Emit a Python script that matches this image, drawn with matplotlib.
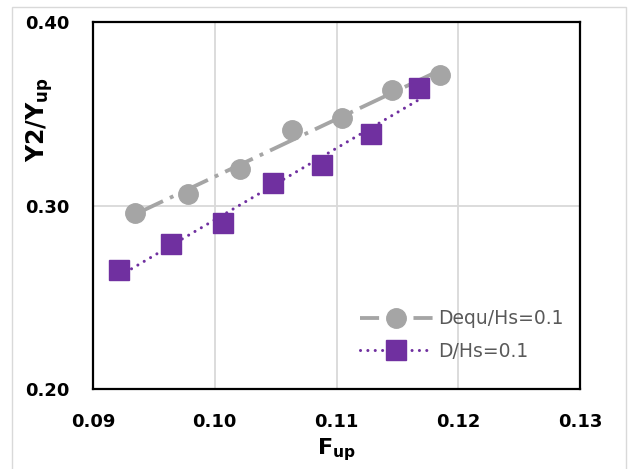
import numpy as np
import matplotlib
matplotlib.use('Agg')
from matplotlib import pyplot as plt
from matplotlib.lines import Line2D
from matplotlib.patches import Rectangle

# Dequ/Hs=0.1
x_dequ = [0.09348, 0.09784, 0.10210, 0.10632, 0.11047, 0.11453, 0.11850]
y_dequ = [0.2960, 0.3065, 0.3200, 0.3414, 0.3476, 0.3628, 0.3712]
# D/Hs=0.1
x_d = [0.09212, 0.09642, 0.10064, 0.10479, 0.10885, 0.11286, 0.11681]
y_d = [0.2647, 0.2791, 0.2904, 0.3125, 0.3223, 0.3391, 0.3641]

labels = ['Dequ/Hs=0.1', 'D/Hs=0.1']
x_ticks = [0.09, 0.10, 0.11, 0.12, 0.13]
y_ticks = [0.20, 0.30, 0.40]

gray = '#A5A5A5'
purple = '#7030A0'
dash_gray = (0, (8, 2, 1, 2))
dot_purple = (0, (0.01, 2.4))

W, H = 631, 469
fig = plt.figure(figsize=(W / 100, H / 100), dpi=100)
ax = fig.add_axes([93 / W, 1 - 389 / H, 487 / W, 367 / H])

# chart area border
fig.patches.append(Rectangle((12 / W, -0.1), 614 / W, 1.1 - 7 / H, transform=fig.transFigure,
                             fill=False, edgecolor='#D9D9D9', linewidth=1))


def trend(x, y):
    k, b = np.polyfit(x, y, 1)
    xs = np.array([min(x), max(x)])
    return xs, k * xs + b


tx, ty = trend(x_dequ, y_dequ)
ax.plot(tx, ty, color=gray, lw=2.75, linestyle=dash_gray, zorder=3)
tx, ty = trend(x_d, y_d)
ax.plot(tx, ty, color=purple, lw=2.2, linestyle=dot_purple, dash_capstyle='round', zorder=3)

ax.plot(x_dequ, y_dequ, 'o', color=gray, markersize=14, zorder=4)
ax.plot(x_d, y_d, 's', color=purple, markersize=14, zorder=4)

ax.set_xlim(0.09, 0.13)
ax.set_ylim(0.20, 0.40)
ax.set_xticks(x_ticks)
ax.set_yticks(y_ticks)
ax.set_xticklabels([f'{v:.2f}' for v in x_ticks], fontweight='bold', fontsize=13)
ax.set_yticklabels([f'{v:.2f}' for v in y_ticks], fontweight='bold', fontsize=13)
ax.tick_params(length=0, pad=17)
ax.grid(color='#D9D9D9', linewidth=1.3)
ax.set_axisbelow(True)
for s in ax.spines.values():
    s.set_linewidth(1.6)
    s.set_color('black')

ax.set_xlabel(r'$\mathbf{F}_{\mathbf{up}}$', fontsize=16, labelpad=4)
fig.text(40 / W, 1 - 120 / H, r'$\mathbf{Y2/Y}_{\mathbf{up}}$', rotation=90,
         fontsize=17, ha='center', va='center')

handles = [
    Line2D([], [], color=gray, lw=2.75, linestyle=(0, (5, 4, 1, 4)), marker='o', markersize=14),
    Line2D([], [], color=purple, lw=2.2, linestyle=dot_purple, dash_capstyle='round',
           marker='s', markersize=14),
]
leg = ax.legend(handles, labels, loc='center', bbox_to_anchor=(0.757, 0.147), frameon=False,
                fontsize=13.5, handlelength=3.9, handletextpad=0.3, labelspacing=0.7,
                numpoints=1, labelcolor='#595959')

fig.savefig('out.png', dpi=100)
